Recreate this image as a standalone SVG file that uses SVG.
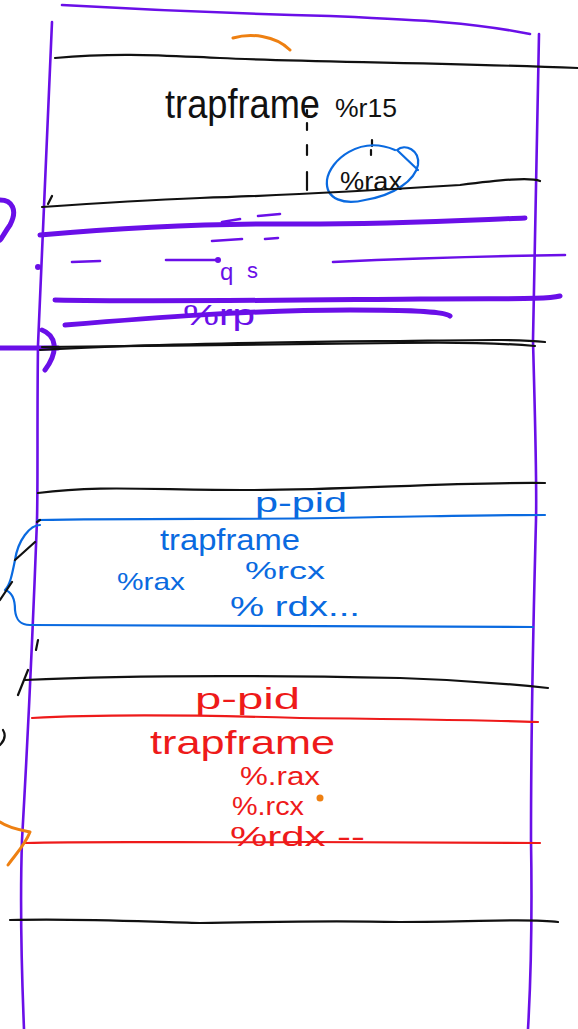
<svg xmlns="http://www.w3.org/2000/svg" width="578" height="1029" viewBox="0 0 578 1029">
<style>
.s{fill:none;stroke-linecap:round;stroke-linejoin:round}
.blk{stroke:#111;stroke-width:2.2}
.pur{stroke:#6a0fe8;stroke-width:2.6}
.purT{stroke:#6a0fe8;stroke-width:5}
.blu{stroke:#0a6ae0;stroke-width:2.2}
.red{stroke:#ee1a1a;stroke-width:2.2}
.org{stroke:#ee8012;stroke-width:3}
text{font-family:"Liberation Sans","DejaVu Sans",sans-serif;font-weight:normal}
.tb{fill:#111}.tu{fill:#0a6ae0}.tr{fill:#ee1a1a}.tp{fill:#6a0fe8}
</style>
<rect width="578" height="1029" fill="#fff"/>
<g id="frame">
<path class="s pur" d="M62,5 C150,10 250,14 330,16 C420,20 470,22 530,34"/>
<path class="s pur" d="M52,22 C48,120 44,230 38,345 C37,420 38,480 37,520 C34,600 30,700 22,840 C20,900 22,980 24,1029"/>
<path class="s pur" d="M539,34 C537,120 535,230 533,340 C535,420 537,480 536,520 C534,600 531,700 531,840 C532,900 532,960 528,1029"/>
<path class="s org" d="M233,38 C250,33 275,35 290,50"/>
</g>
<g id="slot1">
<path class="s blk" d="M55,58 C120,52 170,56 220,58 C300,62 420,62 578,68"/>
<text class="tb" x="165" y="118" font-size="40" textLength="155" lengthAdjust="spacingAndGlyphs">trapframe</text>
<text class="tb" x="335" y="117" font-size="26" textLength="62" lengthAdjust="spacingAndGlyphs">%r15</text>
<path class="s blk" d="M307,110 v4 M307,123 v7 M307,145 v10 M307,172 v18"/>
<path class="s blk" d="M372,140 v6 M371,150 v5"/>
<text class="tb" x="340" y="190" font-size="26" textLength="62" lengthAdjust="spacingAndGlyphs">%rax</text>
<path class="s blu" d="M395,150 C360,135 330,160 327,180 C325,200 345,205 365,200 C395,195 415,180 418,165 C420,150 405,143 397,150 L418,170"/>
<path class="s blk" d="M42,207 C100,203 150,200 200,198 C300,195 380,190 460,185 C500,180 530,177 540,181"/>
<path class="s blk" d="M48,204 l4,-8"/>
</g>
<g id="scribble">
<path class="s purT" d="M40,235 C120,228 200,223 300,224 C400,224 470,220 525,218"/>
<path class="s pur" d="M222,222 l18,-3 M258,216 l22,-2" stroke-width="3"/>
<path class="s pur" d="M212,241 l30,-2 M265,239 l13,-1" stroke-width="3"/>
<circle cx="38" cy="267" r="3" fill="#6a0fe8"/>
<path class="s pur" d="M72,262 l28,-1 M166,260 l52,0 M333,262 C420,258 500,256 565,255" stroke-width="4"/>
<circle cx="218" cy="260" r="3" fill="#6a0fe8"/>
<text class="tp" x="220" y="280" font-size="24">q</text>
<text class="tp" x="247" y="278" font-size="22">s</text>
<text class="tp" x="183" y="325" font-size="30" textLength="72" lengthAdjust="spacingAndGlyphs">%rp</text>
<path class="s purT" d="M55,300 C150,302 300,300 420,299 C500,298 545,300 560,296"/>
<path class="s purT" d="M65,325 C150,318 250,310 350,310 C420,310 445,312 450,316"/>
<path class="s purT" d="M0,200 C12,200 18,210 10,225 C5,232 2,238 0,240"/>
<path class="s purT" d="M0,348 L58,348 M42,330 C55,335 60,350 45,370"/>
</g>
<g id="slot2">
<path class="s blk" d="M40,350 C150,343 300,342 400,341 C480,340 520,339 545,342" stroke-width="2.6"/>
<path class="s blk" d="M42,347 C160,346 300,344 400,343 C460,342 500,343 535,346"/>
<path class="s blk" d="M38,493 C100,485 150,490 250,490 C350,490 450,482 545,483"/>
</g>
<g id="blueFrame">
<path class="s blu" d="M38,520 C150,518 300,520 380,517 C450,516 500,515 545,515"/>
<text class="tu" x="255" y="512" font-size="28" textLength="92" lengthAdjust="spacingAndGlyphs">p-pid</text>
<text class="tu" x="160" y="550" font-size="30" textLength="140" lengthAdjust="spacingAndGlyphs">trapframe</text>
<text class="tu" x="245" y="579" font-size="24" textLength="80" lengthAdjust="spacingAndGlyphs">%rcx</text>
<text class="tu" x="117" y="590" font-size="24" textLength="68" lengthAdjust="spacingAndGlyphs">%rax</text>
<text class="tu" x="230" y="616" font-size="28" textLength="130" lengthAdjust="spacingAndGlyphs">% rdx...</text>
<path class="s blu" d="M40,525 C30,525 18,540 15,560 C12,575 10,585 5,590 C12,592 15,600 15,610 C16,620 20,625 30,625 C150,624 300,625 533,627"/>
<path class="s blk" d="M15,560 l20,-18 M0,600 l12,-18 M38,640 l-2,10 M40,520 l-3,2"/>
</g>
<g id="redFrame">
<path class="s blk" d="M25,680 C150,674 300,676 400,678 C470,680 520,685 548,688"/>
<path class="s blk" d="M18,695 l10,-25 M0,745 C5,740 6,735 3,730"/>
<path class="s red" d="M32,718 C100,714 200,715 300,718 C400,719 480,720 538,722"/>
<text class="tr" x="195" y="709" font-size="30" textLength="105" lengthAdjust="spacingAndGlyphs">p-pid</text>
<text class="tr" x="150" y="754" font-size="34" textLength="185" lengthAdjust="spacingAndGlyphs">trapframe</text>
<text class="tr" x="240" y="785" font-size="26" textLength="80" lengthAdjust="spacingAndGlyphs">%.rax</text>
<text class="tr" x="232" y="815" font-size="26" textLength="72" lengthAdjust="spacingAndGlyphs">%.rcx</text>
<circle cx="320" cy="798" r="3.5" fill="#ee8012"/>
<text class="tr" x="230" y="846" font-size="28" textLength="135" lengthAdjust="spacingAndGlyphs">%rdx --</text>
<path class="s red" d="M25,843 C100,841 200,843 300,842 C400,843 480,843 540,843"/>
<path class="s org" d="M0,822 C8,828 20,830 30,832 C25,845 15,855 8,865"/>
</g>
<g id="slot3">
<path class="s blk" d="M10,920 C80,918 150,922 200,923 C280,922 320,920 400,922 C480,922 530,918 558,922"/>
</g>
</svg>
